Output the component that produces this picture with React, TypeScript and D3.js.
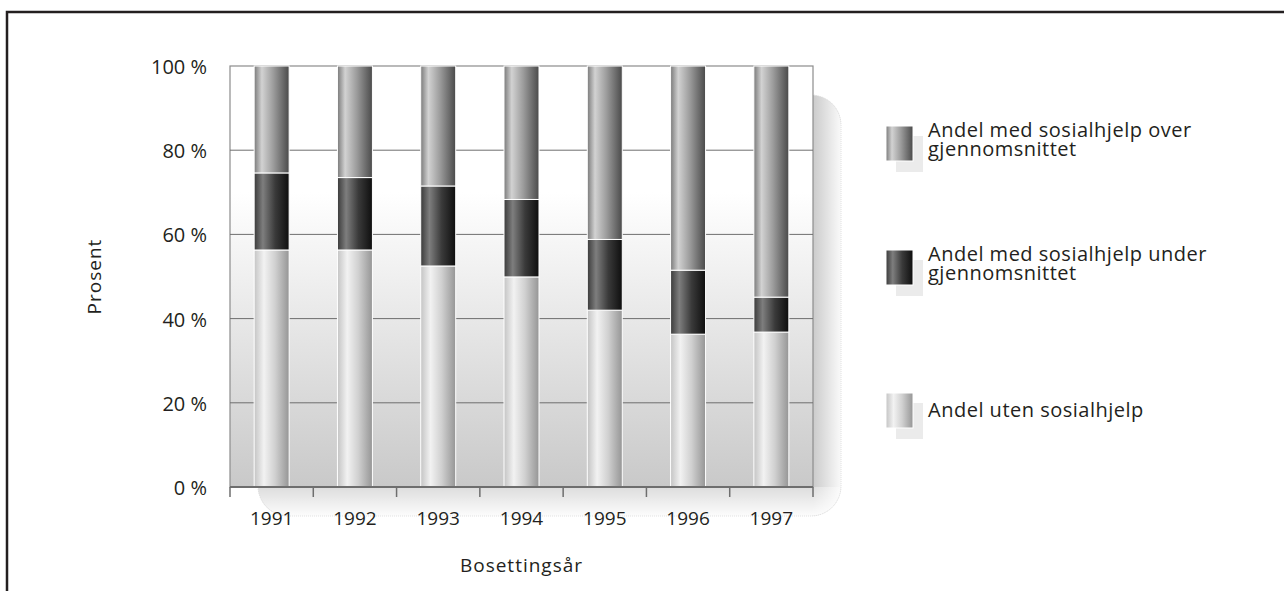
import * as d3 from "d3";
import { useEffect, useRef } from "react";

const years = ["1991", "1992", "1993", "1994", "1995", "1996", "1997"];
const utenSosialhjelp = [56.3, 56.3, 52.5, 49.9, 42.0, 36.3, 36.8];
const underSnitt = [18.3, 17.2, 19.0, 18.4, 16.8, 15.2, 8.3];
const overSnitt = [25.4, 26.5, 28.5, 31.7, 41.2, 48.5, 54.9];
const yTicks = [0, 20, 40, 60, 80, 100];

const seriesKeys = ["uten", "under", "over"];
const legendLabels = [
    ["Andel med sosialhjelp over", "gjennomsnittet"],
    ["Andel med sosialhjelp under", "gjennomsnittet"],
    ["Andel uten sosialhjelp"],
];
const legendKeys = ["over", "under", "uten"];

const W = 1284;
const H = 591;
const FONT = "'Open Sans', 'DejaVu Sans', sans-serif";
const FS = 20;

const App = () => {
    const svgRef = useRef(null);

    useEffect(() => {
        const svg = d3.select(svgRef.current);
        svg.selectAll("*").remove();

        const margin = { top: 66, left: 230, right: W - 813, bottom: H - 487 };
        const innerW = W - margin.left - margin.right;
        const innerH = H - margin.top - margin.bottom;

        const defs = svg.append("defs");

        const makeGrad = (id, stops, vertical = false) => {
            const g = defs.append("linearGradient").attr("id", id)
                .attr("x1", "0").attr("x2", vertical ? "0" : "1")
                .attr("y1", "0").attr("y2", vertical ? "1" : "0");
            stops.forEach(([o, c, op]) => g.append("stop").attr("offset", o)
                .attr("stop-color", c).attr("stop-opacity", op == null ? 1 : op));
        };
        makeGrad("g-over", [[0, "#7a7a7a"], [0.22, "#d2d2d2"], [0.55, "#9c9c9c"], [1, "#4a4a4a"]]);
        makeGrad("g-under", [[0, "#3a3a3a"], [0.25, "#7e7e7e"], [0.6, "#3a3a3a"], [1, "#0e0e0e"]]);
        makeGrad("g-uten", [[0, "#c4c4c4"], [0.28, "#f2f2f2"], [0.6, "#d0d0d0"], [1, "#959595"]]);
        makeGrad("g-bg", [[0.3, "#ffffff"], [1, "#c9c9c9"]], true);
        makeGrad("g-fade-r", [[0, "#ffffff", 0], [1, "#ffffff", 0.9]]);
        makeGrad("g-fade-b", [[0, "#ffffff", 0.35], [1, "#ffffff", 0.95]], true);

        // outer frame
        svg.append("path")
            .attr("d", `M7,${H} L7,12 L${W},12`)
            .attr("fill", "none").attr("stroke", "#231f20").attr("stroke-width", 2.5);

        const x = d3.scaleBand().domain(years).range([0, innerW]).padding(0);
        const y = d3.scaleLinear().domain([0, 100]).range([innerH, 0]);

        // shadow behind plot
        const sx = 28, sy = 29, rr = 30;
        defs.append("clipPath").attr("id", "shadow-clip")
            .append("rect")
            .attr("x", margin.left + sx).attr("y", margin.top + sy)
            .attr("width", innerW).attr("height", innerH).attr("rx", rr);
        const sg = svg.append("g").attr("clip-path", "url(#shadow-clip)");
        sg.append("rect")
            .attr("x", margin.left + sx).attr("y", margin.top + sy)
            .attr("width", innerW).attr("height", innerH).attr("fill", "#cbcbcb");
        sg.append("rect")
            .attr("x", margin.left + innerW).attr("y", margin.top)
            .attr("width", sx).attr("height", innerH + sy + 2).attr("fill", "url(#g-fade-r)");
        sg.append("rect")
            .attr("x", margin.left).attr("y", margin.top + innerH)
            .attr("width", innerW + sx + 2).attr("height", sy).attr("fill", "url(#g-fade-b)");
        svg.append("rect")
            .attr("x", margin.left + sx).attr("y", margin.top + sy)
            .attr("width", innerW).attr("height", innerH).attr("rx", rr)
            .attr("fill", "none").attr("stroke", "#dedede").attr("stroke-dasharray", "1,1");

        const g = svg.append("g").attr("transform", `translate(${margin.left},${margin.top})`);

        g.append("rect")
            .attr("width", innerW).attr("height", innerH)
            .attr("fill", "url(#g-bg)").attr("stroke", "#8c8c8c").attr("stroke-width", 1.2);

        // gridlines
        g.selectAll(".grid")
            .data(yTicks.filter(t => t > 0 && t < 100))
            .enter().append("line")
            .attr("x1", 0).attr("x2", innerW)
            .attr("y1", d => y(d)).attr("y2", d => y(d))
            .attr("stroke", "#6e6e6e").attr("stroke-width", 1);

        // stacked bars
        const rows = years.map((yr, i) => ({ year: yr, uten: utenSosialhjelp[i], under: underSnitt[i], over: overSnitt[i] }));
        const stack = d3.stack().keys(seriesKeys)(rows);
        const bw = x.bandwidth() * 0.42;

        stack.forEach(layer => {
            g.selectAll(`.bar-${layer.key}`)
                .data(layer)
                .enter().append("rect")
                .attr("x", d => x(d.data.year) + (x.bandwidth() - bw) / 2)
                .attr("y", d => y(d[1]))
                .attr("width", bw)
                .attr("height", d => y(d[0]) - y(d[1]))
                .attr("fill", `url(#g-${layer.key})`)
                .attr("stroke", "#ffffff").attr("stroke-width", 1);
        });

        // x axis
        g.append("line")
            .attr("x1", 0).attr("x2", innerW).attr("y1", innerH).attr("y2", innerH)
            .attr("stroke", "#6e6e6e").attr("stroke-width", 2);
        const bounds = years.map(yr => x(yr)).concat([innerW]);
        g.selectAll(".xtick").data(bounds).enter().append("line")
            .attr("x1", d => d).attr("x2", d => d)
            .attr("y1", innerH).attr("y2", innerH + 10)
            .attr("stroke", "#6e6e6e").attr("stroke-width", 1.5);
        g.selectAll(".xlab").data(years).enter().append("text")
            .attr("x", d => x(d) + x.bandwidth() / 2)
            .attr("y", innerH + 38)
            .attr("text-anchor", "middle")
            .attr("font-family", FONT).attr("font-size", 19).attr("fill", "#231f20")
            .text(d => d);

        // y axis labels
        g.selectAll(".ylab").data(yTicks).enter().append("text")
            .attr("x", -23)
            .attr("y", d => y(d) + 8)
            .attr("text-anchor", "end")
            .attr("font-family", FONT).attr("font-size", FS).attr("fill", "#231f20")
            .text(d => `${d} %`);

        svg.append("text")
            .attr("transform", `translate(101,${margin.top + innerH / 2}) rotate(-90)`)
            .attr("text-anchor", "middle")
            .attr("font-family", FONT).attr("font-size", 19).attr("fill", "#231f20")
            .attr("letter-spacing", 1)
            .text("Prosent");

        svg.append("text")
            .attr("x", margin.left + innerW / 2).attr("y", 572)
            .attr("text-anchor", "middle")
            .attr("font-family", FONT).attr("font-size", 19).attr("fill", "#231f20")
            .attr("letter-spacing", 1)
            .text("Bosettingsår");

        // legend
        const legendY = [126, 250, 393];
        legendKeys.forEach((k, i) => {
            const ly = legendY[i];
            svg.append("rect")
                .attr("x", 896).attr("y", ly + 10).attr("width", 27).attr("height", 36)
                .attr("fill", "#ebebeb");
            svg.append("rect")
                .attr("x", 886).attr("y", ly).attr("width", 27).attr("height", 35)
                .attr("fill", `url(#g-${k})`).attr("stroke", "#ffffff").attr("stroke-width", 1);
            const lines = legendLabels[i];
            const t = svg.append("text")
                .attr("font-family", FONT).attr("font-size", FS).attr("fill", "#231f20")
                .attr("letter-spacing", 0.5);
            const startY = lines.length === 2 ? ly + 11 : ly + 24;
            lines.forEach((ln, j) => {
                t.append("tspan").attr("x", 928).attr("y", startY + j * 19).text(ln);
            });
        });
    }, []);

    return (
        <div style={{ position: "absolute", left: 0, top: 0, width: W, height: H, background: "#fff" }}>
            <svg ref={svgRef} width={W} height={H} />
        </div>
    );
};

export default App;
